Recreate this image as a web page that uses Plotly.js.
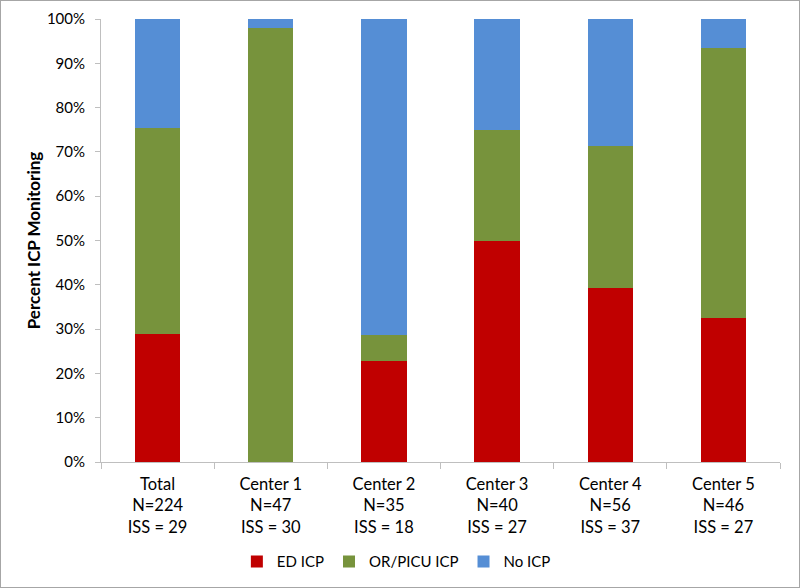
<!DOCTYPE html>
<html>
<head>
<meta charset="utf-8">
<script src="https://cdn.plot.ly/plotly-3.0.1.min.js"></script>
<style>
html,body{margin:0;padding:0;background:#fff;}
#wrap{position:relative;width:800px;height:588px;}
#chart{width:800px;height:588px;}
#frame{position:absolute;left:0;top:0;width:800px;height:588px;box-sizing:border-box;border:1px solid #a6a6a6;pointer-events:none;}
</style>
</head>
<body>
<div id="wrap"><div id="chart"></div><div id="frame"></div></div>
<script>
const categories = ["Total<br>N=224<br>ISS = 29", "Center 1<br>N=47<br>ISS = 30", "Center 2<br>N=35<br>ISS = 18", "Center 3<br>N=40<br>ISS = 27", "Center 4<br>N=56<br>ISS = 37", "Center 5<br>N=46<br>ISS = 27"];
const edICP = [29.0, 0.0, 22.9, 50.0, 39.3, 32.6];
const orPicuICP = [46.4, 97.9, 5.7, 25.0, 32.1, 60.9];
const noICP = [24.6, 2.1, 71.4, 25.0, 28.6, 6.5];
const seriesNames = ["ED ICP", "OR/PICU ICP", "No ICP"];
const colors = ["#C00000", "#77933C", "#558ED5"];

const font = "Lato, 'Open Sans', sans-serif";
const traces = [edICP, orPicuICP, noICP].map((vals, i) => ({
  type: "bar",
  name: seriesNames[i],
  x: categories,
  y: vals.map(v => v / 100),
  marker: {color: colors[i], line: {width: 0}},
  hoverinfo: "skip"
}));

const layout = {
  width: 800, height: 588,
  barmode: "stack",
  bargap: 0.6,
  margin: {l: 101, r: 20, t: 19, b: 126, autoexpand: false},
  paper_bgcolor: "#fff", plot_bgcolor: "#fff",
  font: {family: font, size: 15, color: "#000"},
  showlegend: true,
  legend: {
    orientation: "h", x: 0.435, xanchor: "center",
    y: -0.225, yanchor: "middle", font: {size: 15}, traceorder: "normal",
    itemwidth: 30
  },
  xaxis: {
    type: "category", tickangle: 0, automargin: false,
    showline: true, linecolor: "#bfbfbf", linewidth: 1,
    ticks: "outside", tickson: "boundaries", ticklen: 6, tickcolor: "#bfbfbf",
    ticklabelstandoff: 7,
    showgrid: false, tickfont: {size: 16.5}
  },
  yaxis: {
    range: [0, 1], dtick: 0.1, tickformat: ".0%", automargin: false,
    showline: true, linecolor: "#bfbfbf", linewidth: 1,
    ticks: "outside", ticklen: 5, tickcolor: "#bfbfbf",
    ticklabelstandoff: 7,
    showgrid: false, zeroline: false, tickfont: {size: 15},
    title: {text: "<b>Percent ICP Monitoring</b>", font: {size: 17}, standoff: 1}
  }
};
Plotly.newPlot("chart", traces, layout, {displayModeBar: false, staticPlot: true});
</script>
</body>
</html>
